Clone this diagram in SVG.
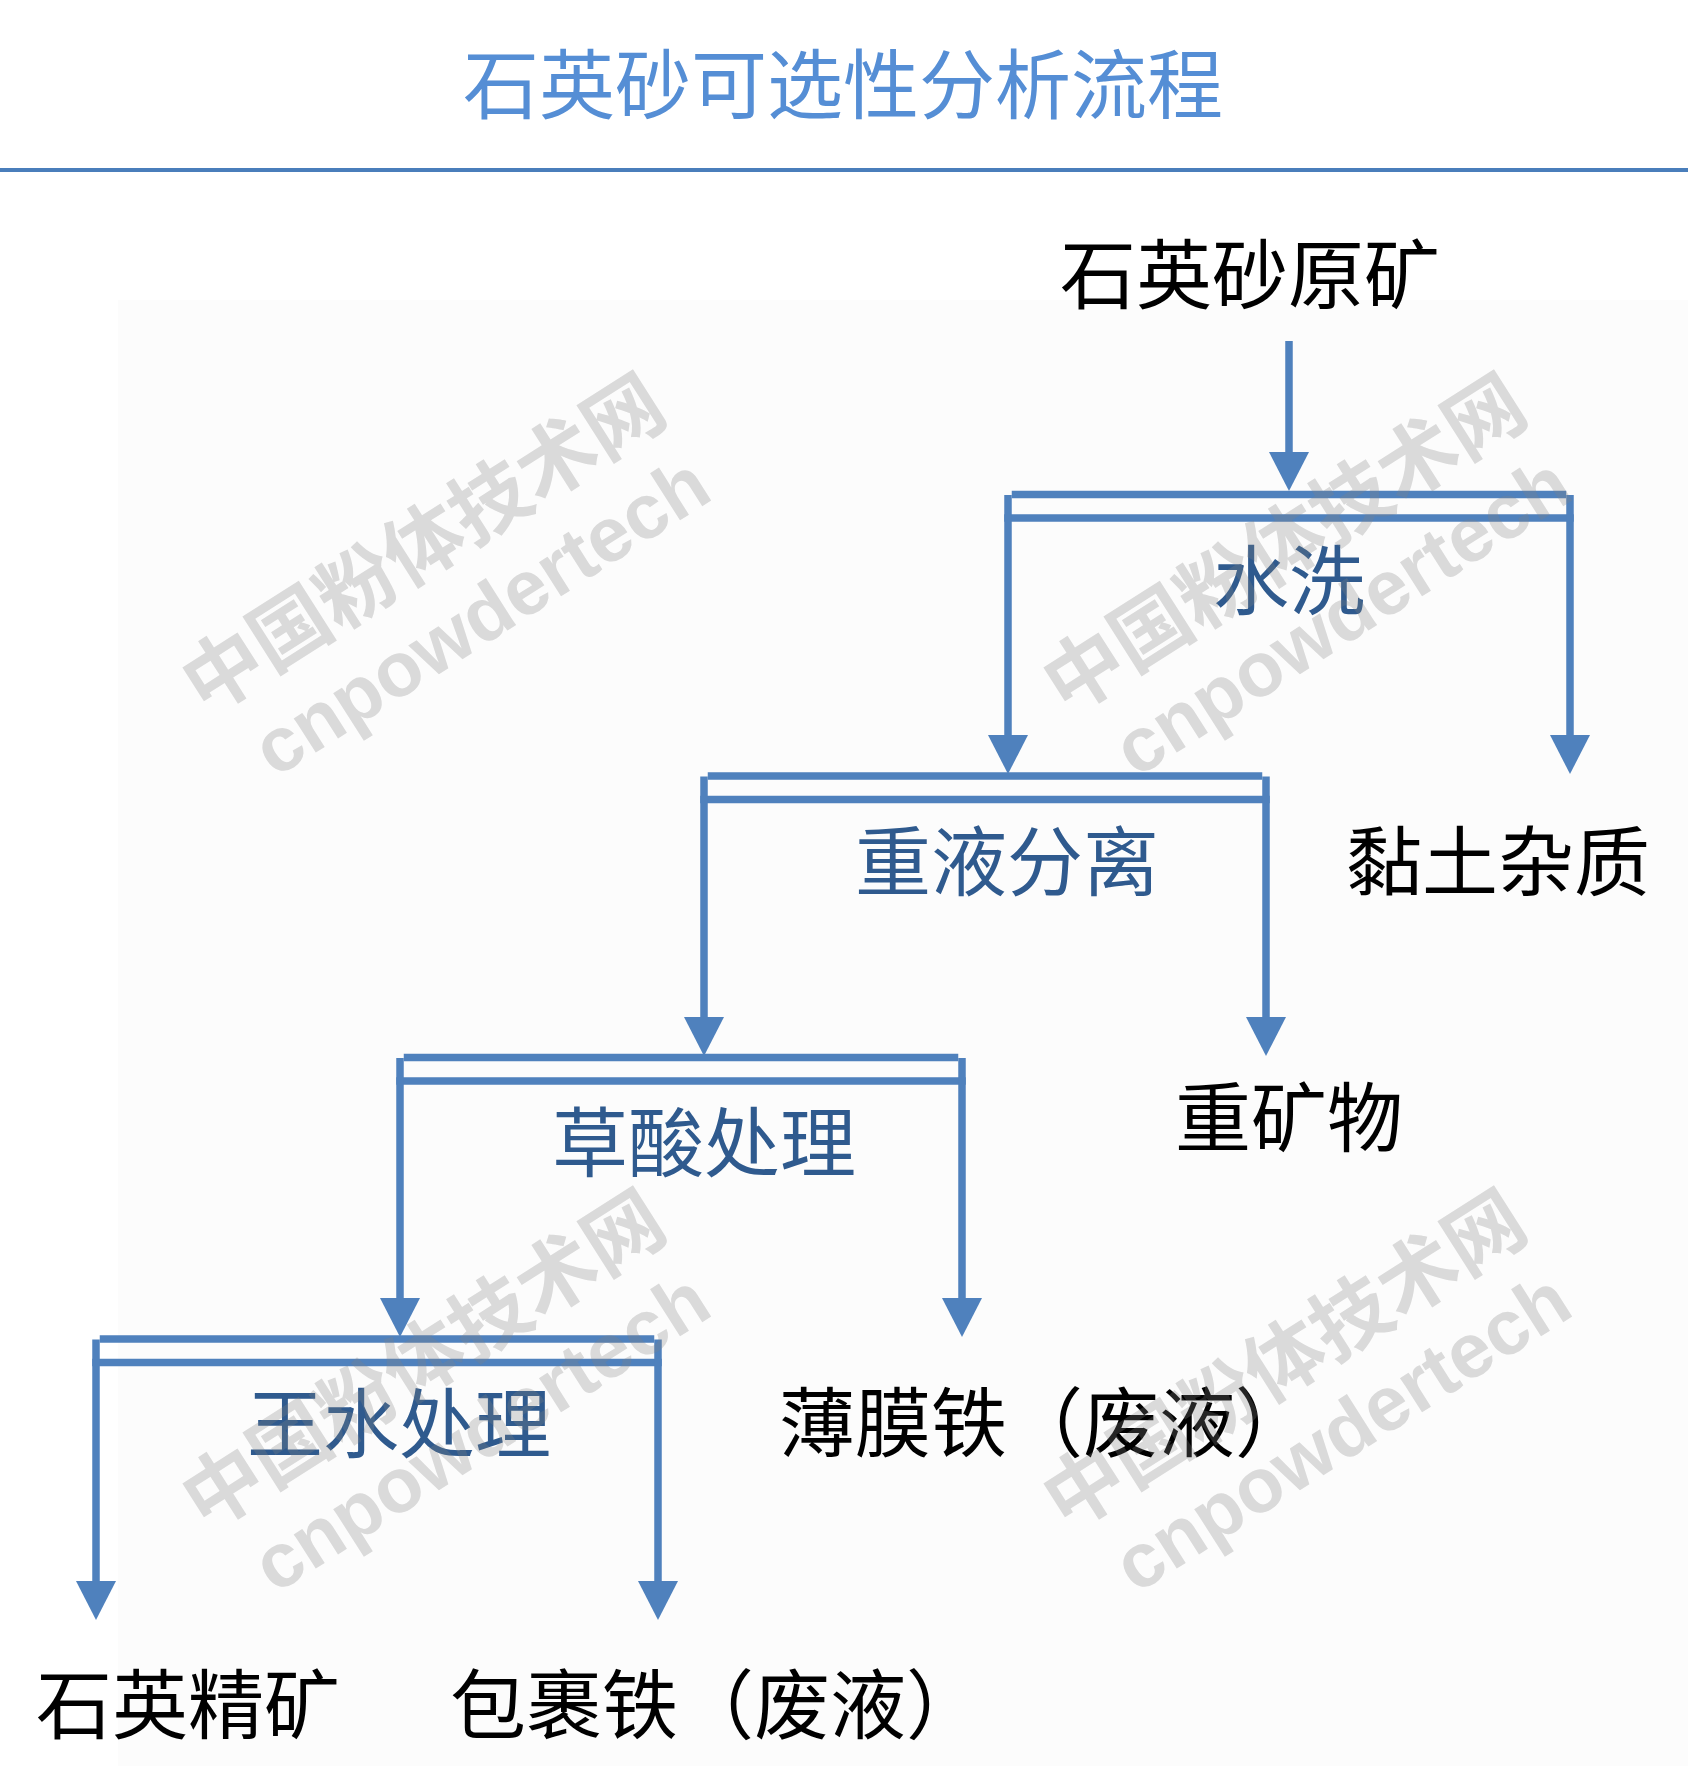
<svg xmlns="http://www.w3.org/2000/svg" width="1688" height="1766" viewBox="0 0 1688 1766">
  <defs>
    <style>
      .t { font-family: "Noto Sans CJK SC", "Noto Sans", sans-serif; font-size: 76px; }
      .title { fill: #558ed5; text-anchor: middle; }
      .step { fill: #2f5a8e; text-anchor: middle; }
      .out { fill: #000000; }
      .mid { text-anchor: middle; }
      .ln { stroke: #4f81bd; stroke-width: 7.5; fill: none; stroke-linecap: butt; }
      .arr { stroke: #4f81bd; stroke-width: 7.5; fill: none; marker-end: url(#ah); }
      .wm { fill: #808080; fill-opacity: 0.28; font-weight: bold; text-anchor: middle; }
      .wmc { font-family: "Noto Sans CJK SC", sans-serif; font-size: 79px; }
      .wml { font-family: "Liberation Sans", "Noto Sans", sans-serif; font-size: 77px; }
    </style>
    <marker id="ah" viewBox="0 0 39 40" refX="0" refY="20" markerWidth="39" markerHeight="40" markerUnits="userSpaceOnUse" orient="auto">
      <path d="M0,0 L39,20 L0,40 Z" fill="#4f81bd"/>
    </marker>
    <g id="wmark">
      <text class="wm wmc" x="-6" y="-16">中国粉体技术网</text>
      <text class="wm wml" x="4" y="74">cnpowdertech</text>
    </g>
  </defs>

  <rect x="0" y="0" width="1688" height="1766" fill="#ffffff"/>
  <rect x="118" y="300" width="1570" height="1466" fill="#fcfcfc"/>

  <g id="title">
    <text class="t title" x="843" y="113">石英砂可选性分析流程</text>
    <rect x="0" y="168" width="1688" height="4" fill="#4a7ebb"/>
  </g>

  <g id="connectors">
    <!-- input arrow -->
    <line class="arr" x1="1289" y1="341" x2="1289" y2="452"/>
    <!-- bracket 1 (水洗) -->
    <line class="ln" x1="1011.75" y1="494.5" x2="1566.25" y2="494.5"/>
    <line class="ln" x1="1004.25" y1="518" x2="1573.75" y2="518"/>
    <line class="arr" x1="1008" y1="495" x2="1008" y2="735"/>
    <line class="arr" x1="1570" y1="495" x2="1570" y2="735"/>
    <!-- bracket 2 (重液分离) -->
    <line class="ln" x1="707.75" y1="776" x2="1262.25" y2="776"/>
    <line class="ln" x1="700.25" y1="799.5" x2="1269.75" y2="799.5"/>
    <line class="arr" x1="704" y1="776.5" x2="704" y2="1017"/>
    <line class="arr" x1="1266" y1="776.5" x2="1266" y2="1017"/>
    <!-- bracket 3 (草酸处理) -->
    <line class="ln" x1="403.75" y1="1057.5" x2="958.25" y2="1057.5"/>
    <line class="ln" x1="396.25" y1="1081" x2="965.75" y2="1081"/>
    <line class="arr" x1="400" y1="1058" x2="400" y2="1298"/>
    <line class="arr" x1="962" y1="1058" x2="962" y2="1298"/>
    <!-- bracket 4 (王水处理) -->
    <line class="ln" x1="99.75" y1="1339" x2="654.25" y2="1339"/>
    <line class="ln" x1="92.25" y1="1362.5" x2="661.75" y2="1362.5"/>
    <line class="arr" x1="96" y1="1339.5" x2="96" y2="1581"/>
    <line class="arr" x1="658" y1="1339.5" x2="658" y2="1581"/>
  </g>

  <g id="n-raw"><text class="t out mid" x="1250" y="303">石英砂原矿</text></g>
  <g id="n-wash"><text class="t step" x="1289" y="609">水洗</text></g>
  <g id="n-clay"><text class="t out mid" x="1498" y="890">黏土杂质</text></g>
  <g id="n-heavyliquid"><text class="t step" x="1007" y="890">重液分离</text></g>
  <g id="n-heavymin"><text class="t out mid" x="1289" y="1146">重矿物</text></g>
  <g id="n-oxalic"><text class="t step" x="704" y="1171">草酸处理</text></g>
  <g id="n-filmfe"><text class="t out" x="779" y="1451">薄膜铁（废液）</text></g>
  <g id="n-aquaregia"><text class="t step" x="399" y="1452">王水处理</text></g>
  <g id="n-concentrate"><text class="t out mid" x="188" y="1733">石英精矿</text></g>
  <g id="n-wrapfe"><text class="t out" x="450" y="1733">包裹铁（废液）</text></g>

  <g id="watermarks">
    <use href="#wmark" transform="translate(452,578) rotate(-32.5)"/>
    <use href="#wmark" transform="translate(1313,578) rotate(-32.5)"/>
    <use href="#wmark" transform="translate(452,1394) rotate(-32.5)"/>
    <use href="#wmark" transform="translate(1313,1394) rotate(-32.5)"/>
  </g>
</svg>
